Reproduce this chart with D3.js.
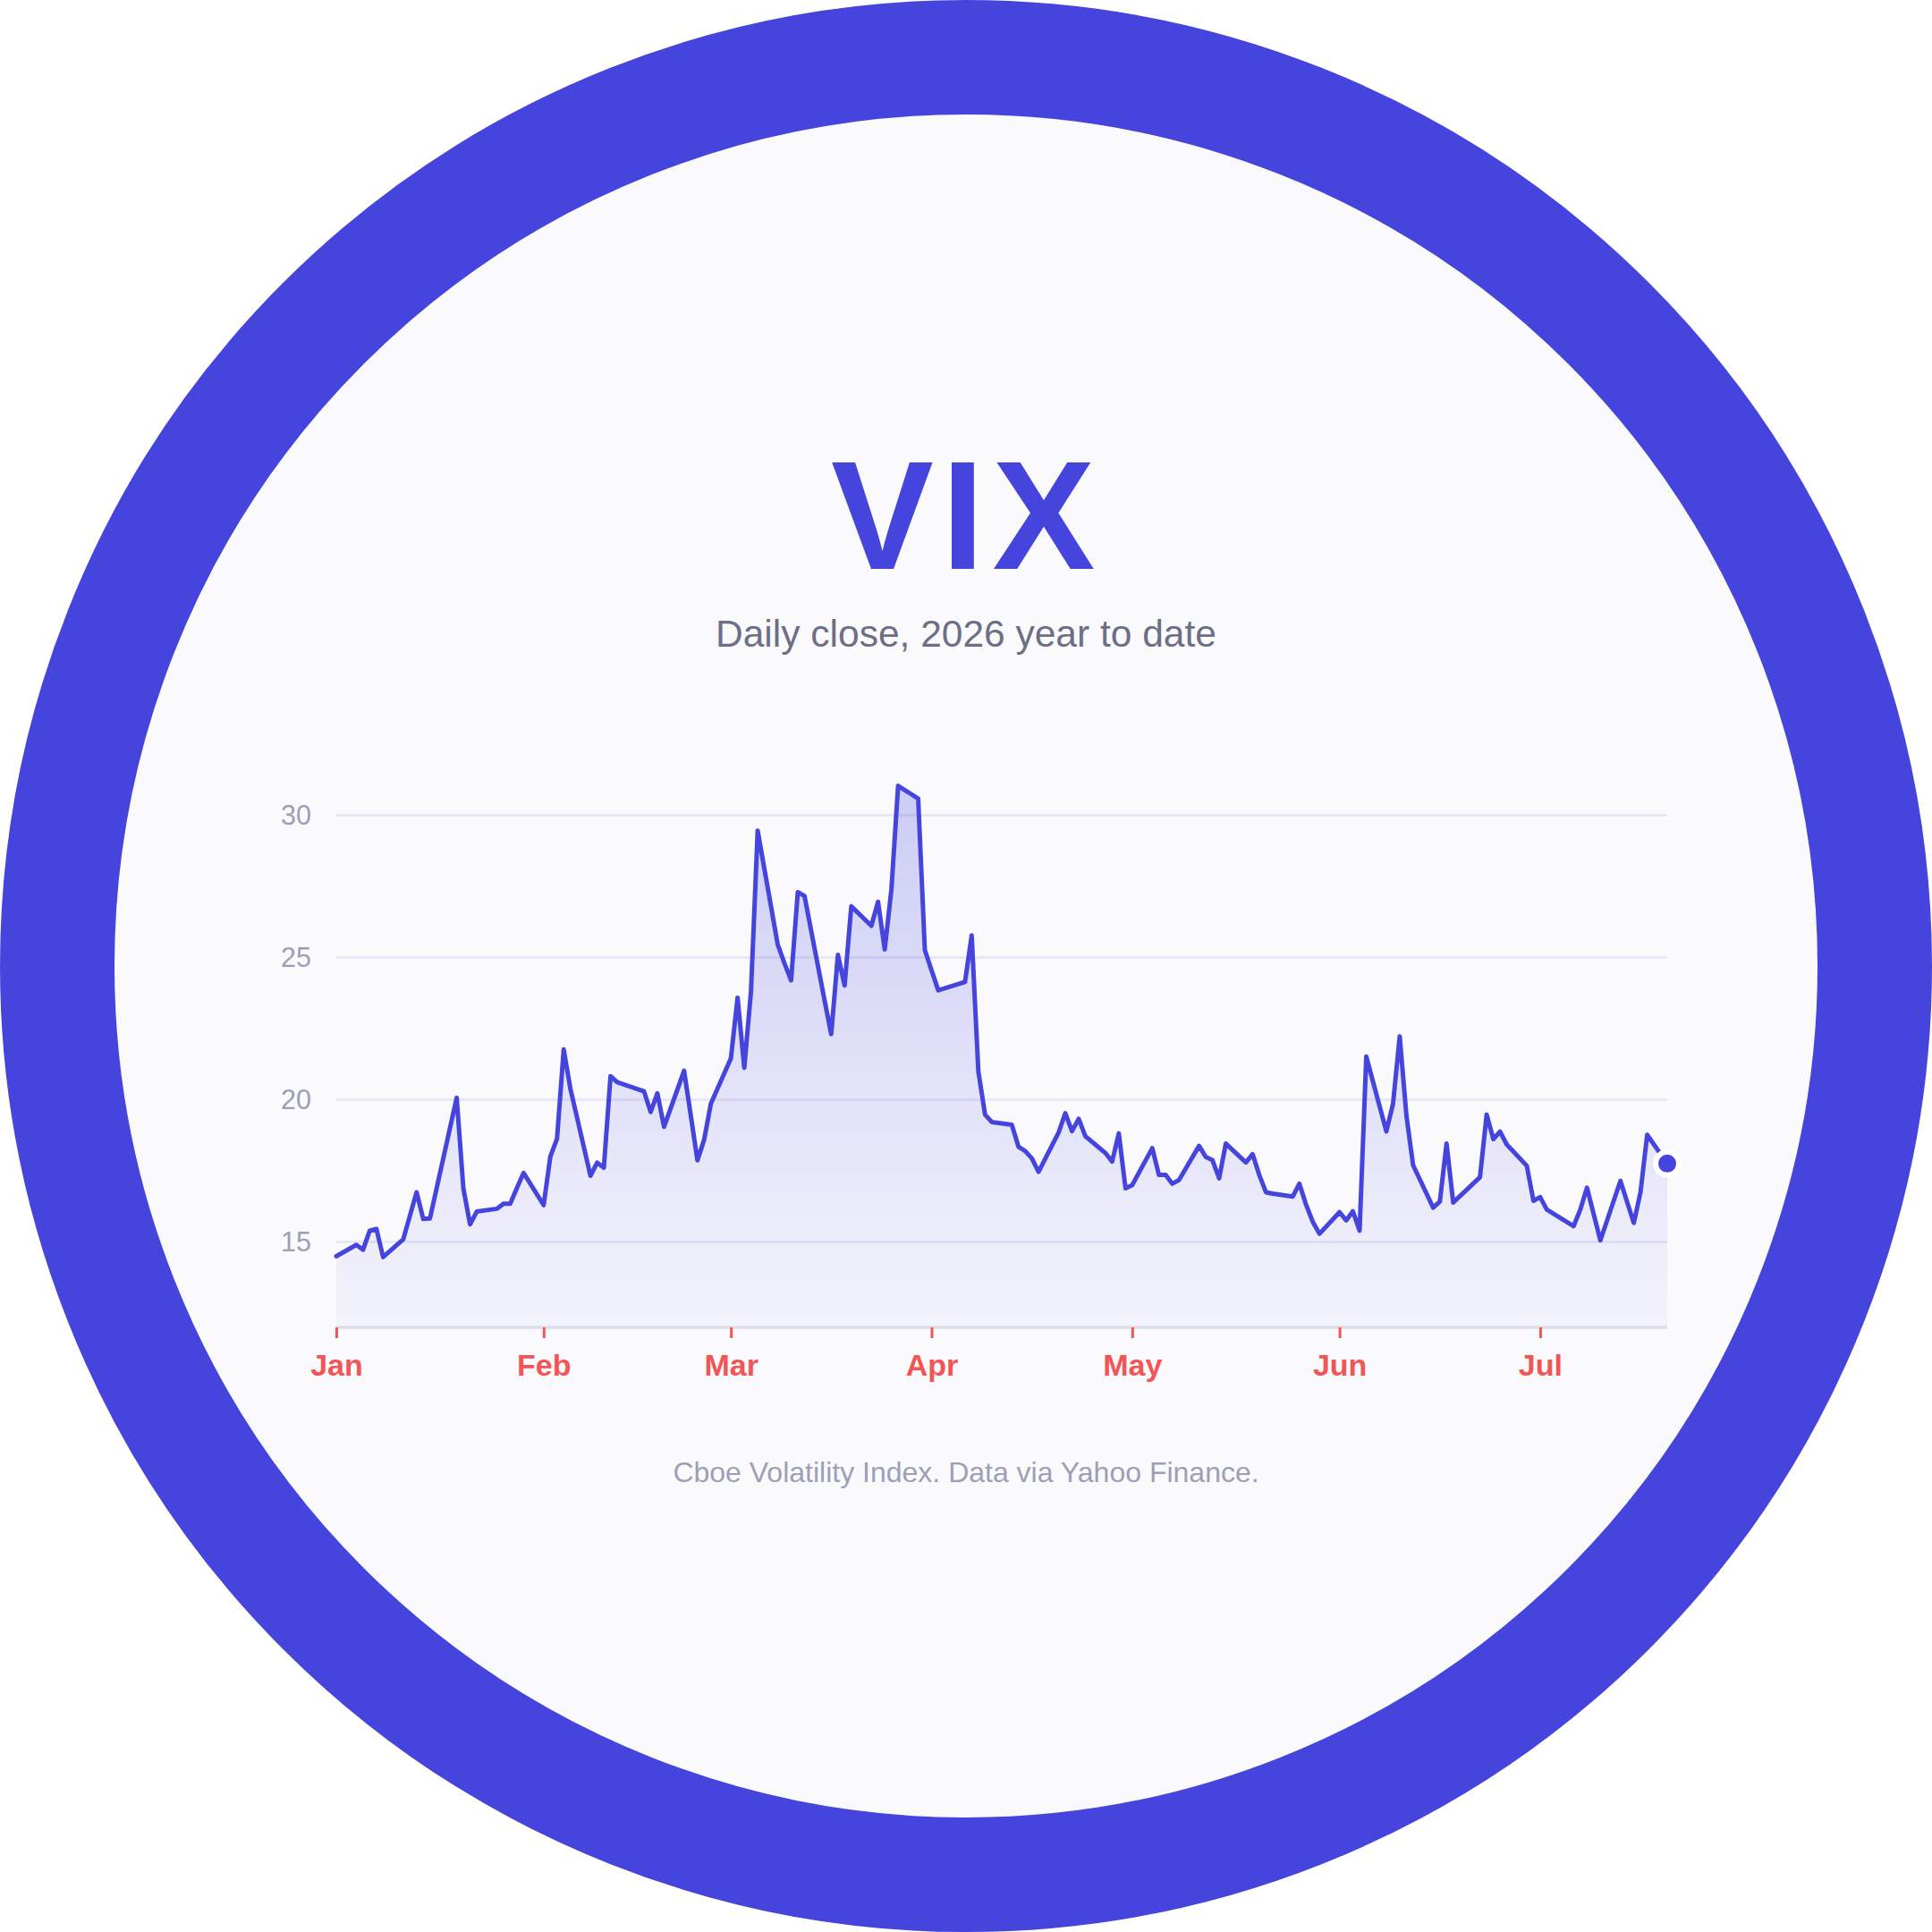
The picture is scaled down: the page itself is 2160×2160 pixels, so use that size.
<!DOCTYPE html>
<meta charset="utf-8">

<script src="https://d3js.org/d3.v7.min.js"></script>

<style type="text/css">
body { margin: 0; background: #ffffff; }
svg { display: block; font-family: "Liberation Sans", Arial, sans-serif; }
</style>

<body>
</body>

<script>

// Data (trading days, 2026) ----------------------------------------------

var janDays = ["01-02","01-05","01-06","01-07","01-08","01-09","01-12","01-13","01-14","01-15","01-16","01-20","01-21","01-22","01-23","01-26","01-27","01-28","01-29","01-30"];
var febDays = ["02-02","02-03","02-04","02-05","02-06","02-09","02-10","02-11","02-12","02-13","02-17","02-18","02-19","02-20","02-23","02-24","02-25","02-26","02-27"];
var marDays = ["03-02","03-03","03-04","03-05","03-06","03-09","03-10","03-11","03-12","03-13","03-16","03-17","03-18","03-19","03-20","03-23","03-24","03-25","03-26","03-27","03-30","03-31"];
var aprDays = ["04-01","04-02","04-06","04-07","04-08","04-09","04-10","04-13","04-14","04-15","04-16","04-17","04-20","04-21","04-22","04-23","04-24","04-27","04-28","04-29","04-30"];
var mayDays = ["05-01","05-04","05-05","05-06","05-07","05-08","05-11","05-12","05-13","05-14","05-15","05-18","05-19","05-20","05-21","05-22","05-25","05-26","05-27","05-28","05-29"];
var junDays = ["06-01","06-02","06-03","06-04","06-05","06-08","06-09","06-10","06-11","06-12","06-15","06-16","06-17","06-18","06-22","06-23","06-24","06-25","06-26","06-29","06-30"];
var julDays = ["07-01","07-02","07-06","07-07","07-08","07-09","07-10","07-13","07-14","07-15","07-16","07-17","07-20"];

var janClose = [14.50,14.90,14.73,15.40,15.46,14.47,15.09,15.92,16.75,15.81,15.83,20.07,16.88,15.62,16.07,16.17,16.35,16.35,16.90,17.43];
var febClose = [16.30,18.00,18.63,21.77,20.39,17.33,17.79,17.61,20.83,20.62,20.30,19.57,20.23,19.05,21.02,19.45,17.87,18.60,19.86];
var marClose = [21.46,23.59,21.13,23.80,29.46,25.46,24.80,24.20,27.30,27.17,23.50,22.31,25.10,24.02,26.80,26.12,26.96,25.29,27.40,31.04,30.59,25.26];
var aprClose = [24.55,23.85,24.14,25.78,21.00,19.48,19.22,19.12,18.35,18.20,17.94,17.47,18.85,19.53,18.90,19.33,18.72,18.13,17.83,18.82,16.89];
var mayClose = [17.00,18.30,17.36,17.36,17.05,17.18,18.38,17.99,17.88,17.24,18.46,17.80,18.09,17.36,16.75,16.70,16.60,17.05,16.31,15.71,15.29];
var junClose = [16.05,15.76,16.08,15.40,21.52,18.89,19.86,22.23,19.45,17.70,16.21,16.42,18.46,16.39,17.28,19.48,18.62,18.88,18.43,17.68,16.45];
var julClose = [16.58,16.14,15.56,16.14,16.91,15.98,15.06,17.15,16.41,15.67,16.75,18.77,17.76];

var yTicks = [15, 20, 25, 30];
var yMin = 12, yMax = 32;

var title = "VIX";
var subtitle = "Daily close, 2026 year to date";
var footnote = "Cboe Volatility Index. Data via Yahoo Finance.";

// Build rows --------------------------------------------------------------

var parseDay = d3.timeParse("%Y-%m-%d");
var allDays = [].concat(janDays, febDays, marDays, aprDays, mayDays, junDays, julDays);
var allClose = [].concat(janClose, febClose, marClose, aprClose, mayClose, junClose, julClose);

var data = allDays.map(function(d, i) {
  return { date: parseDay("2026-" + d), close: allClose[i] };
});

// Layout ------------------------------------------------------------------

var size = 2160;
var indigo = "#4545dd";
var red = "#f25555";

var margin = {top: 848, right: 296, bottom: 676, left: 376};
var width = size - margin.left - margin.right,
    height = size - margin.top - margin.bottom;

var svg = d3.select("body").append("svg")
    .attr("width", size)
    .attr("height", size);

// badge ring
svg.append("circle")
    .attr("cx", size / 2)
    .attr("cy", size / 2)
    .attr("r", 1016)
    .attr("fill", "#fafafd")
    .attr("stroke", indigo)
    .attr("stroke-width", 128);

svg.append("text")
    .attr("x", size / 2 + 1)
    .attr("y", 636)
    .attr("text-anchor", "middle")
    .style("font-size", "172px")
    .style("font-weight", "bold")
    .style("letter-spacing", "9px")
    .style("fill", indigo)
    .text(title);

svg.append("text")
    .attr("x", size / 2)
    .attr("y", 723)
    .attr("text-anchor", "middle")
    .style("font-size", "42.5px")
    .style("fill", "#6c6f86")
    .text(subtitle);

svg.append("text")
    .attr("x", size / 2)
    .attr("y", 1657)
    .attr("text-anchor", "middle")
    .style("font-size", "32px")
    .style("fill", "#9c9fb8")
    .text(footnote);

var g = svg.append("g")
    .attr("transform", "translate(" + margin.left + "," + margin.top + ")");

// Scales and axes ---------------------------------------------------------

var xScale = d3.scaleTime()
    .domain(d3.extent(data, function(d) { return d.date; }))
    .range([0, width]);

var yScale = d3.scaleLinear()
    .domain([yMin, yMax])
    .range([height, 0]);

// first trading day of each month
var monthTicks = d3.groups(data, function(d) { return d.date.getMonth(); })
    .map(function(m) { return m[1][0].date; });

// gridlines
g.append("g")
    .attr("class", "grid")
  .selectAll("line")
  .data(yTicks)
  .enter().append("line")
    .attr("x1", 0)
    .attr("x2", width)
    .attr("y1", function(d) { return yScale(d); })
    .attr("y2", function(d) { return yScale(d); })
    .attr("stroke", "#e5e5f3")
    .attr("stroke-width", 2.5);

var yAxis = d3.axisLeft(yScale)
    .tickValues(yTicks)
    .tickSize(0)
    .tickPadding(28);

var yAxisGroup = g.append("g")
    .attr("class", "y axis")
    .call(yAxis);
yAxisGroup.select(".domain").remove();
yAxisGroup.selectAll("text")
    .style("font-size", "30.5px")
    .style("font-family", "\"Liberation Sans\", Arial, sans-serif")
    .style("fill", "#9c9fb8");

// area + line
var defs = svg.append("defs");
var grad = defs.append("linearGradient")
    .attr("id", "fade")
    .attr("x1", 0).attr("y1", 0)
    .attr("x2", 0).attr("y2", 1);
grad.append("stop").attr("offset", "0%").attr("stop-color", indigo).attr("stop-opacity", 0.25);
grad.append("stop").attr("offset", "100%").attr("stop-color", indigo).attr("stop-opacity", 0.04);

var area = d3.area()
    .x(function(d) { return xScale(d.date); })
    .y0(yScale(yMin))
    .y1(function(d) { return yScale(d.close); });

var line = d3.line()
    .x(function(d) { return xScale(d.date); })
    .y(function(d) { return yScale(d.close); });

g.append("path")
    .datum(data)
    .attr("d", area)
    .attr("fill", "url(#fade)");

var xAxis = d3.axisBottom(xScale)
    .tickValues(monthTicks)
    .tickFormat(d3.timeFormat("%b"))
    .tickSize(12)
    .tickPadding(18);

var xAxisGroup = g.append("g")
    .attr("class", "x axis")
    .attr("transform", "translate(0," + height + ")")
    .call(xAxis);
xAxisGroup.select(".domain")
    .attr("stroke", "#dcdcee")
    .attr("stroke-width", 3.5)
    .attr("d", "M0,0H" + width);
xAxisGroup.selectAll(".tick line")
    .attr("stroke", red)
    .attr("stroke-width", 3);
xAxisGroup.selectAll("text")
    .style("font-size", "34px")
    .style("font-weight", "bold")
    .style("font-family", "\"Liberation Sans\", Arial, sans-serif")
    .style("fill", red);

g.append("path")
    .datum(data)
    .attr("d", line)
    .attr("fill", "none")
    .attr("stroke", indigo)
    .attr("stroke-width", 5)
    .attr("stroke-linejoin", "round")
    .attr("stroke-linecap", "round");

// latest close marker
var last = data[data.length - 1];
g.append("circle")
    .attr("cx", xScale(last.date))
    .attr("cy", yScale(last.close))
    .attr("r", 13)
    .attr("fill", indigo)
    .attr("stroke", "#ffffff")
    .attr("stroke-width", 6);

</script>
